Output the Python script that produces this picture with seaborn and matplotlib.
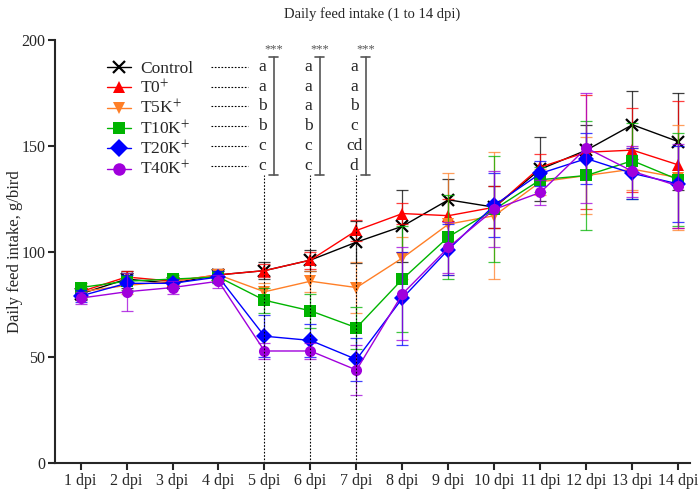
import matplotlib
matplotlib.use("Agg")
import matplotlib.pyplot as plt
import seaborn as sns
import pandas as pd
from matplotlib.lines import Line2D

days = list(range(1, 15))
day_labels = [f"{d} dpi" for d in days]

groups = ["Control", "T0", "T5K", "T10K", "T20K", "T40K"]
group_labels = ["Control", r"T0$^{+}$", r"T5K$^{+}$", r"T10K$^{+}$", r"T20K$^{+}$", r"T40K$^{+}$"]

control = [80, 87, 85, 89, 91, 96, 104.5, 112, 124.5, 121, 139, 148, 160, 152]
t0 = [81, 88, 86, 89, 91, 96, 110, 118, 117, 121, 140, 147, 148, 141]
t5k = [81, 84, 86, 89, 81, 86, 83, 97, 113, 117, 133, 136, 139, 135]
t10k = [83, 86, 87, 88, 77, 72, 64, 87, 107, 120, 134, 136, 143, 134]
t20k = [79, 85, 85, 88, 60, 58, 49, 78, 101, 122, 137, 144, 137, 132]
t40k = [78, 81, 83, 86, 53, 53, 44, 80, 102, 120, 128, 149, 138, 131]

sd_control = [3, 4, 2, 3, 4, 5, 10, 17, 10, 10, 15, 12, 16, 23]
sd_t0 = [2, 3, 2, 3, 3, 4, 5, 5, 8, 10, 6, 27, 20, 30]
sd_t5k = [3, 4, 2, 3, 4, 5, 12, 10, 24, 30, 6, 18, 10, 25]
sd_t10k = [2, 4, 2, 3, 6, 8, 10, 25, 20, 25, 6, 26, 18, 22]
sd_t20k = [3, 4, 2, 3, 10, 8, 10, 22, 12, 15, 6, 12, 12, 18]
sd_t40k = [3, 9, 3, 3, 4, 4, 12, 22, 12, 18, 6, 26, 12, 20]

# significance letters at 5, 6, 7 dpi
letters_5 = ["a", "a", "b", "b", "c", "c"]
letters_6 = ["a", "a", "a", "b", "c", "c"]
letters_7 = ["a", "a", "b", "c", "cd", "d"]

means = [control, t0, t5k, t10k, t20k, t40k]
sds = [sd_control, sd_t0, sd_t5k, sd_t10k, sd_t20k, sd_t40k]
colors = ["#000000", "#ff0000", "#ff7f27", "#00b400", "#0000ff", "#a000dc"]
markers = ["x", "^", "v", "s", "D", "o"]

rows = []
for g, m, s in zip(groups, means, sds):
    for d, v, e in zip(days, m, s):
        rows.append({"group": g, "day": d, "intake": v, "sd": e})
df = pd.DataFrame(rows)

sns.set_style("ticks")
plt.rcParams["font.family"] = ["Liberation Serif", "DejaVu Serif"]
plt.rcParams["mathtext.fontset"] = "stix"

fig = plt.figure(figsize=(6.99, 4.9), dpi=100)
ax = fig.add_axes([0.079, 0.055, 0.908, 0.863])

for g, c, m in zip(groups, colors, markers):
    sub = df[df.group == g]
    ax.errorbar(sub["day"], sub["intake"], yerr=sub["sd"], fmt="none",
                ecolor=c, elinewidth=0.9, capsize=4, capthick=0.9, alpha=0.75)
    sns.lineplot(data=sub, x="day", y="intake", color=c, marker=m,
                 linewidth=1, markersize=8, markeredgewidth=1.6 if m == "x" else 0,
                 markeredgecolor=c, errorbar=None, ax=ax, legend=False)

ax.set_xlim(0.45, 14.25)
ax.set_ylim(0, 200)
ax.set_yticks([0, 50, 100, 150, 200])
ax.set_xticks(days)
ax.set_xticklabels(day_labels, fontsize=11.5)
ax.tick_params(axis="y", labelsize=11.5)
ax.tick_params(axis="both", width=1.5, length=5, pad=2)
ax.set_xlabel("")
ax.set_ylabel("Daily feed intake, g/bird", fontsize=12, labelpad=-1)
ax.set_title("Daily feed intake (1 to 14 dpi)", fontsize=10.5, pad=16)
for sp in ["top", "right"]:
    ax.spines[sp].set_visible(False)
ax.spines["left"].set_linewidth(1.5)
ax.spines["bottom"].set_linewidth(1.5)

# legend
handles = [Line2D([], [], color=c, marker=m, markersize=9, linewidth=1,
                  markeredgewidth=1.6 if m == "x" else 0)
           for c, m in zip(colors, markers)]
leg = ax.legend(handles, group_labels, loc="upper left", bbox_to_anchor=(0.07, 0.967),
                frameon=False, fontsize=12.5, handlelength=1.4, handletextpad=0.55,
                labelspacing=0.1, borderaxespad=0)

# significance annotations
row_y = [187.2, 177.8, 168.8, 159.3, 149.8, 140.7]
for i, y in enumerate(row_y):
    ax.plot([3.83, 4.65], [y, y], color="black", linestyle=(0, (1.5, 1.5)), linewidth=0.8)
for x, lets in zip([5, 6, 7], [letters_5, letters_6, letters_7]):
    for y, l in zip(row_y, lets):
        ax.text(x - 0.05, y, l, ha="center", va="center", fontsize=12.5)
    ax.plot([x, x], [0, 136], color="black", linestyle=(0, (1.5, 1.5)), linewidth=0.8)
    bx = x + 0.2
    ax.plot([bx, bx], [136, 192], color="#555555", linewidth=1.2)
    ax.plot([bx - 0.1, bx + 0.1], [192, 192], color="#555555", linewidth=1.2)
    ax.plot([bx - 0.1, bx + 0.1], [136, 136], color="#555555", linewidth=1.2)
    ax.text(bx, 193, "***", ha="center", va="bottom", fontsize=9, color="#555555")

fig.savefig("out.png", dpi=100)
